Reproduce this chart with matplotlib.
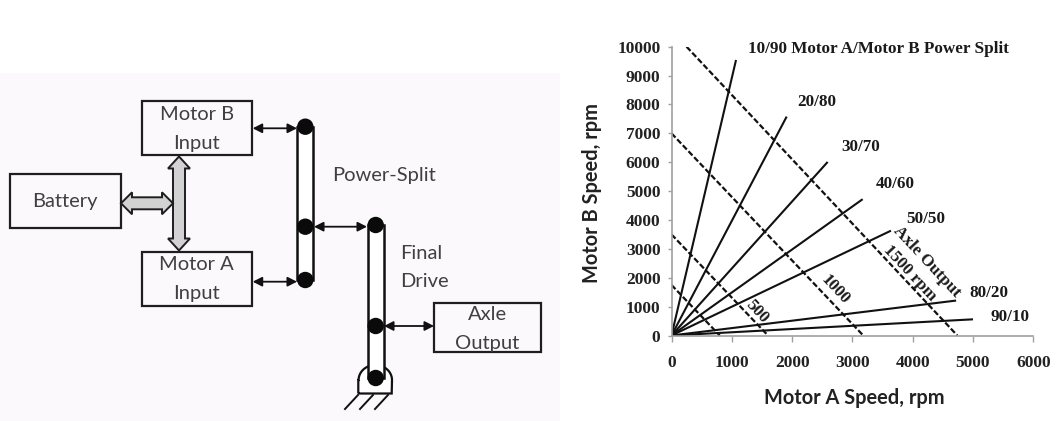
import matplotlib
matplotlib.use('Agg')
import matplotlib.pyplot as plt
import numpy as np
from matplotlib.patches import Rectangle, Circle, Polygon
from matplotlib.path import Path
from matplotlib.patches import PathPatch


# power split lines: from origin to the end point (Motor A rpm, Motor B rpm)
split_labels = ['10/90', '20/80', '30/70', '40/60', '50/50', '80/20', '90/10']
split_end_a = [1070, 1910, 2590, 3170, 3640, 4720, 5000]
split_end_b = [9540, 7580, 6010, 4720, 3630, 1210, 560]
split_label_a = [1274, 2086, 2811, 3391, 3900, 4939, 5282]
split_label_b = [9910, 8096, 6517, 5236, 4034, 1461, 651]

# constant axle output lines (dashed)
axle_rpm = [250, 500, 1000, 1500]
axle_start_a = [0, 0, 0, 250]
axle_start_b = [1750, 3500, 7000, 10000]
axle_end_a = [800, 1600, 3180, 4740]
axle_end_b = [0, 0, 0, 0]

x_ticks = [0, 1000, 2000, 3000, 4000, 5000, 6000]
y_ticks = [0, 1000, 2000, 3000, 4000, 5000, 6000, 7000, 8000, 9000, 10000]

serif = 'Liberation Serif'
sans = 'Lato'
W, H = 1062, 421

fig = plt.figure(figsize=(W/100, H/100), dpi=100)
fig.patch.set_facecolor('white')

# ---------------- block diagram (drawn in pixel coords) ----------------
dg = fig.add_axes([0, 0, 1, 1])
dg.set_xlim(0, W)
dg.set_ylim(H, 0)
dg.axis('off')

dg.add_patch(Rectangle((0, 73), 560, H-73, facecolor='#fcf9fc', edgecolor='none'))

edge = '#1e1e1e'
txt = '#404040'
dfs = 14.5

def box(x0, y0, x1, y1):
    dg.add_patch(Rectangle((x0, y0), x1-x0, y1-y0, facecolor='none', edgecolor=edge, lw=1.6))

box(141.7, 101, 251.7, 155)
box(141.7, 251.7, 251.7, 306)
box(10, 174, 120.7, 228)
box(434, 302.7, 541, 351.7)

def fat_darrow(p0, p1, shaft=12, head=22, hl=12):
    p0 = np.array(p0, float); p1 = np.array(p1, float)
    d = (p1-p0)/np.linalg.norm(p1-p0)
    n = np.array([-d[1], d[0]])
    pts = [p0,
           p0 + d*hl + n*head/2, p0 + d*hl + n*shaft/2,
           p1 - d*hl + n*shaft/2, p1 - d*hl + n*head/2,
           p1,
           p1 - d*hl - n*head/2, p1 - d*hl - n*shaft/2,
           p0 + d*hl - n*shaft/2, p0 + d*hl - n*head/2]
    dg.add_patch(Polygon(pts, closed=True, facecolor='#d2d2d2', edgecolor=edge, lw=1.4, zorder=3))

fat_darrow((179, 156.5), (179, 250.5), shaft=12, head=22, hl=12)
fat_darrow((121, 203.3), (173, 203.3), shaft=12, head=22, hl=11)

def thin_darrow(x0, x1, y):
    dg.annotate('', xy=(x1, y), xytext=(x0, y),
                arrowprops=dict(arrowstyle='<|-|>,head_length=0.55,head_width=0.28',
                                color='#111111', lw=1.3, shrinkA=0, shrinkB=0))

thin_darrow(252.7, 297, 128.3)
thin_darrow(252.7, 297, 281.7)
thin_darrow(314, 367, 226.7)
thin_darrow(384, 434, 326)

def bar(cx, ytop, ybot, circles):
    dg.add_patch(Rectangle((cx-8, ytop), 16, ybot-ytop, facecolor='white', edgecolor='#111111', lw=1.8, zorder=4))
    for cy in circles:
        dg.add_patch(Circle((cx, cy), 8.2, facecolor='#0a0a0a', edgecolor='none', zorder=5))

bar(305.3, 126.7, 280, [126.7, 226.7, 280])

# ground holder around the final drive
verts = [(358.3, 393.5), (358.3, 380)]
th = np.linspace(np.pi, 0, 30)
verts += [(375.3 + 16.7*np.cos(t), 380 - 15*np.sin(t)) for t in th]
verts += [(391.7, 393.5), (358.3, 393.5)]
dg.add_patch(PathPatch(Path(verts), facecolor='white', edgecolor='#111111', lw=1.6, zorder=3))
bar(375.7, 225, 378, [225, 326, 378])
for x0 in [345, 360, 375]:
    dg.plot([x0, x0+13], [409, 395], color='#111111', lw=1.4)

dg.text(65.3, 201, 'Battery', ha='center', va='center', fontsize=dfs, family=sans, color=txt)
dg.text(196.7, 115, 'Motor B', ha='center', va='center', fontsize=dfs, family=sans, color=txt)
dg.text(196.7, 143.3, 'Input', ha='center', va='center', fontsize=dfs, family=sans, color=txt)
dg.text(196.7, 265, 'Motor A', ha='center', va='center', fontsize=dfs, family=sans, color=txt)
dg.text(196.7, 293.3, 'Input', ha='center', va='center', fontsize=dfs, family=sans, color=txt)
dg.text(487.5, 315, 'Axle', ha='center', va='center', fontsize=dfs, family=sans, color=txt)
dg.text(487.5, 343.3, 'Output', ha='center', va='center', fontsize=dfs, family=sans, color=txt)
dg.text(332, 175, 'Power-Split', ha='left', va='center', fontsize=dfs, family=sans, color=txt)
dg.text(400, 253.3, 'Final', ha='left', va='center', fontsize=dfs, family=sans, color=txt)
dg.text(400, 281.7, 'Drive', ha='left', va='center', fontsize=dfs, family=sans, color=txt)

# ---------------- speed chart ----------------
ax = fig.add_axes([671.5/W, 1-335.5/H, 361.8/W, 288.8/H])
ax.set_facecolor('none')
ax.set_xlim(0, 6000)
ax.set_ylim(0, 10000)

lfs = 12.3
for i in range(len(split_labels)):
    ax.plot([0, split_end_a[i]], [0, split_end_b[i]], color='#111111', lw=1.5, solid_capstyle='butt')
    lab = split_labels[i]
    if i == 0:
        lab = lab + ' Motor A/Motor B Power Split'
    ax.text(split_label_a[i], split_label_b[i], lab, ha='left', va='center',
            fontsize=lfs, family=serif, weight='bold', color='#1a1a1a')

for i in range(len(axle_rpm)):
    ax.plot([axle_start_a[i], axle_end_a[i]], [axle_start_b[i], axle_end_b[i]],
            color='#111111', lw=1.6, linestyle=(0, (2.6, 1.1)))

rot = -47
for lx, ly, s in [(1413, 824, '500'), (2711, 1600, '1000'),
                  (4232, 2555, 'Axle Output'), (3955, 2175, '1500 rpm')]:
    ax.text(lx, ly, s, rotation=rot, rotation_mode='anchor', ha='center', va='center',
            fontsize=lfs, family=serif, weight='bold', color='#1a1a1a')

ax.set_xticks(x_ticks)
ax.set_yticks(y_ticks)
ax.set_xticklabels([str(v) for v in x_ticks], family=serif, weight='bold', fontsize=12.5, color='#222222')
ax.set_yticklabels([str(v) for v in y_ticks], family=serif, weight='bold', fontsize=12.5, color='#222222')
ax.tick_params(axis='x', length=4, width=1, color='#a0a0a0', pad=10)
ax.tick_params(axis='y', length=3, width=1, color='#a0a0a0', pad=5)
for s in ['top', 'right']:
    ax.spines[s].set_visible(False)
for s in ['left', 'bottom']:
    ax.spines[s].set_color('#a0a0a0')
    ax.spines[s].set_linewidth(1.2)

ax.set_xlabel('Motor A Speed, rpm', family=sans, weight='bold', fontsize=14.4, color='#222222')
ax.set_ylabel('Motor B Speed, rpm', family=sans, weight='bold', fontsize=14.4, color='#222222')
ax.xaxis.set_label_coords(0.504, -0.2164)
ax.yaxis.set_label_coords(-0.2206, 0.493)
ax.xaxis.label.set_va('center')
ax.yaxis.label.set_va('center')

fig.savefig('out.png', dpi=100)
